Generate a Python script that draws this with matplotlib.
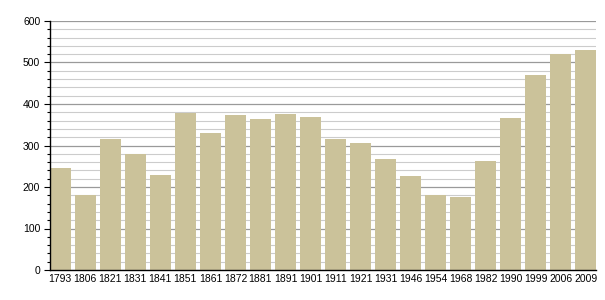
import matplotlib
matplotlib.use("Agg")
import matplotlib.pyplot as plt
from matplotlib.ticker import MultipleLocator

years = ["1793", "1806", "1821", "1831", "1841", "1851", "1861", "1872", "1881", "1891", "1901",
         "1911", "1921", "1931", "1946", "1954", "1968", "1982", "1990", "1999", "2006", "2009"]
population = [245, 180, 316, 279, 229, 379, 330, 373, 364, 376, 369,
              316, 305, 268, 227, 180, 176, 263, 366, 470, 520, 530]

plt.rcParams['font.family'] = ['Liberation Sans', 'DejaVu Sans']

fig = plt.figure(figsize=(6.05, 3.0), dpi=100)
ax = fig.add_axes([50 / 605, 30 / 300, 546 / 605, 249 / 300])

x = list(range(len(years)))
ax.bar(x, population, width=0.82, color="#cbc29a", zorder=3)

ax.set_xlim(-0.41, len(years) - 1 + 0.41)
ax.set_ylim(0, 600)
ax.yaxis.set_major_locator(MultipleLocator(100))
ax.yaxis.set_minor_locator(MultipleLocator(20))
ax.grid(which="major", axis="y", color="#9a9a9a", linewidth=0.9, zorder=1)
ax.grid(which="minor", axis="y", color="#cccccc", linewidth=0.8, zorder=1)

ax.set_xticks(x)
ax.set_xticklabels(years)
ax.tick_params(axis="x", length=0, pad=3, labelsize=7.5)
ax.tick_params(axis="y", which="major", length=4, width=0.8, labelsize=7.5, pad=3)
ax.tick_params(axis="y", which="minor", length=2, width=0.8)

for s in ["top", "right"]:
    ax.spines[s].set_visible(False)
ax.spines["left"].set_linewidth(1.0)
ax.spines["bottom"].set_linewidth(1.0)
ax.spines["left"].set_zorder(4)
ax.spines["bottom"].set_zorder(4)

fig.savefig("out.png", dpi=100)
